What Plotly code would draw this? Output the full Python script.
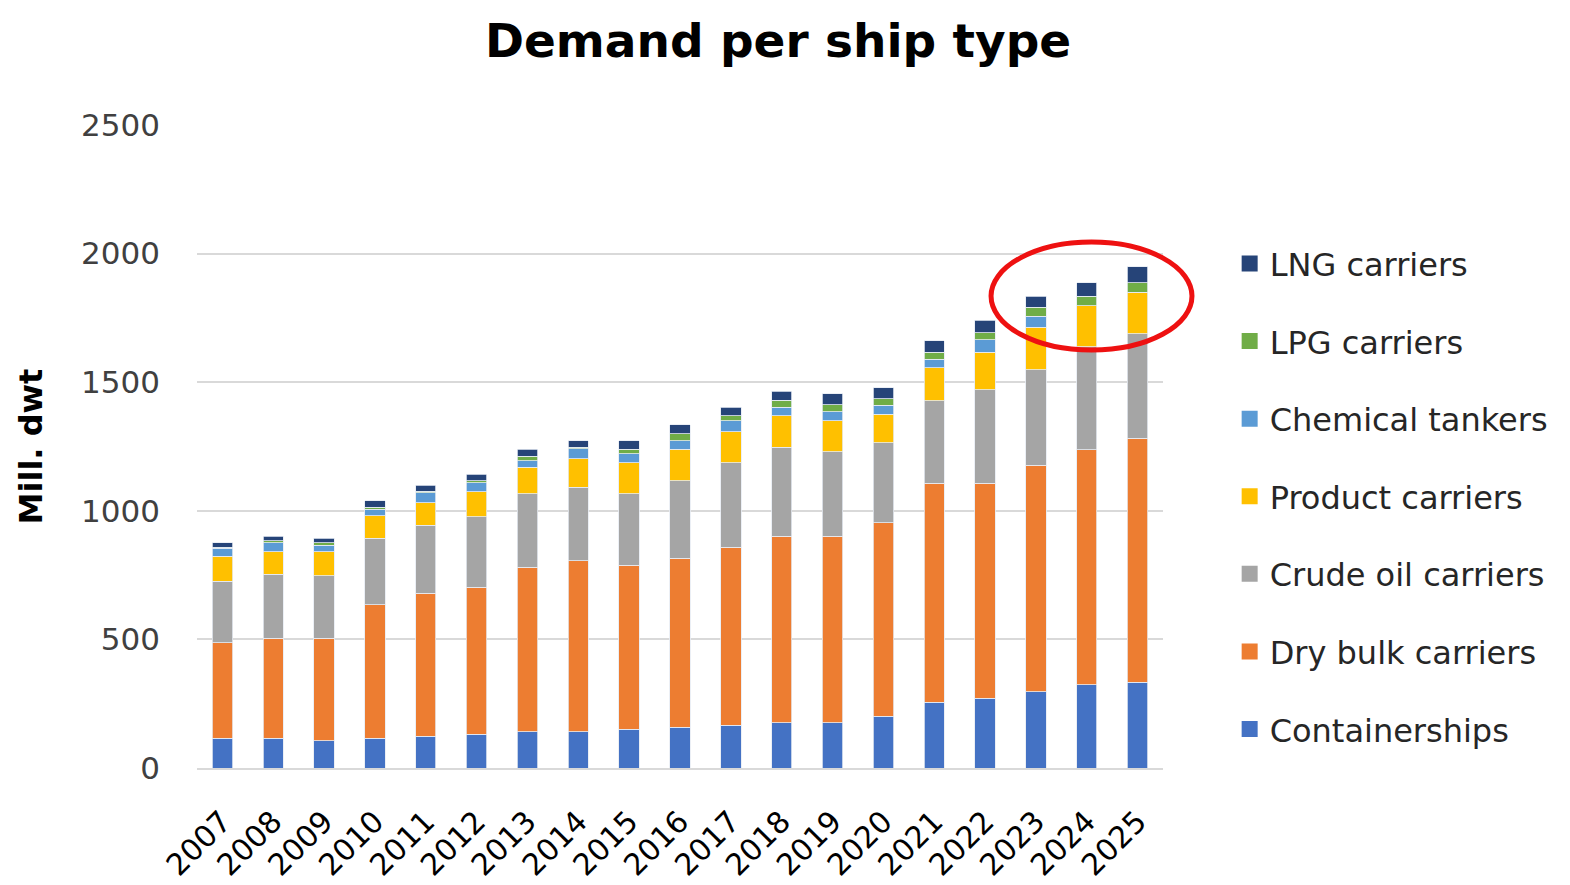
import plotly.graph_objects as go

# years on the x axis
years = [str(y) for y in range(2007, 2026)]

# Mill. dwt per ship type
containerships = [115, 115, 106, 115, 124, 132, 141, 141, 150, 158, 167, 176, 176, 202, 255, 272, 297, 323, 334]
dry_bulk = [372, 389, 398, 519, 555, 571, 639, 664, 639, 657, 691, 726, 726, 752, 853, 836, 881, 915, 948]
crude_oil = [240, 250, 243, 259, 265, 274, 286, 287, 277, 302, 329, 345, 328, 310, 320, 363, 371, 400, 406]
product = [97, 87, 94, 87, 88, 98, 103, 111, 121, 122, 121, 122, 121, 112, 129, 146, 164, 160, 162]
chemical = [30, 35, 26, 26, 39, 35, 26, 38, 34, 34, 43, 34, 35, 34, 33, 49, 43, 0, 0]
lpg = [5, 8, 8, 8, 5, 7, 18, 6, 18, 26, 18, 26, 26, 25, 27, 27, 36, 37, 36]
lng = [17, 18, 18, 26, 23, 26, 26, 26, 34, 35, 34, 35, 43, 43, 44, 47, 43, 52, 62]

series = [
    ("Containerships", containerships, "#4472C4"),
    ("Dry bulk carriers", dry_bulk, "#ED7D31"),
    ("Crude oil carriers", crude_oil, "#A5A5A5"),
    ("Product carriers", product, "#FFC000"),
    ("Chemical tankers", chemical, "#5B9BD5"),
    ("LPG carriers", lpg, "#70AD47"),
    ("LNG carriers", lng, "#264478"),
]

FONT = "DejaVu Sans"

fig = go.Figure()
for name, vals, color in series:
    fig.add_trace(go.Bar(
        x=years, y=vals, name=name, showlegend=False,
        marker=dict(color=color, line=dict(color="#e6ebf2", width=0.8)),
    ))

# legend-only entries (top of stack first) so the swatch can be a bigger square
for name, vals, color in reversed(series):
    fig.add_trace(go.Scatter(
        x=[None], y=[None], mode="markers", name=name,
        legendgroup="lg_" + name,
        marker=dict(symbol="square", size=22, color=color),
    ))

# page has an 8px body margin, so the figure is 8px smaller than the window
fig.update_layout(
    barmode="stack",
    bargap=0.6,
    width=1562, height=877,
    paper_bgcolor="white", plot_bgcolor="white",
    margin=dict(l=189, r=407, t=117, b=117, autoexpand=False),
    font=dict(family=FONT, size=28, color="#262626"),
    title=dict(
        text="<b>Demand per ship type</b>",
        font=dict(family=FONT, size=47, color="black"),
        x=0.493, xanchor="center", y=0.963, yanchor="middle",
    ),
    legend=dict(
        x=1.069, xanchor="left", y=0.422, yanchor="middle",
        traceorder="grouped", tracegroupgap=33,
        font=dict(family=FONT, size=32, color="#262626"),
        itemclick=False,
    ),
    showlegend=True,
)

fig.update_yaxes(
    range=[0, 2500], dtick=500,
    showgrid=True, gridcolor="#d9d9d9", gridwidth=2,
    zeroline=False, showline=False, automargin=False,
    ticklabelstandoff=36,
    tickfont=dict(size=31, color="#404040"),
    title=dict(text="<b>Mill. dwt</b>", font=dict(size=32, color="black"), standoff=28),
)
fig.update_xaxes(
    range=[-0.5, 18.5], automargin=False,
    showgrid=False, showline=True, linecolor="#d9d9d9", linewidth=2,
    tickangle=-45, ticklabelstandoff=22,
    tickfont=dict(size=30, color="black"),
)

# red ring around the last three years (paper refs so it is not clipped at the plot edge)
fig.add_shape(
    type="circle", xref="paper", yref="paper",
    x0=0.822, x1=1.030, y0=0.650, y1=0.818,
    line=dict(color="#ee1111", width=5),
    layer="above",
)

fig.write_html("out.html")
